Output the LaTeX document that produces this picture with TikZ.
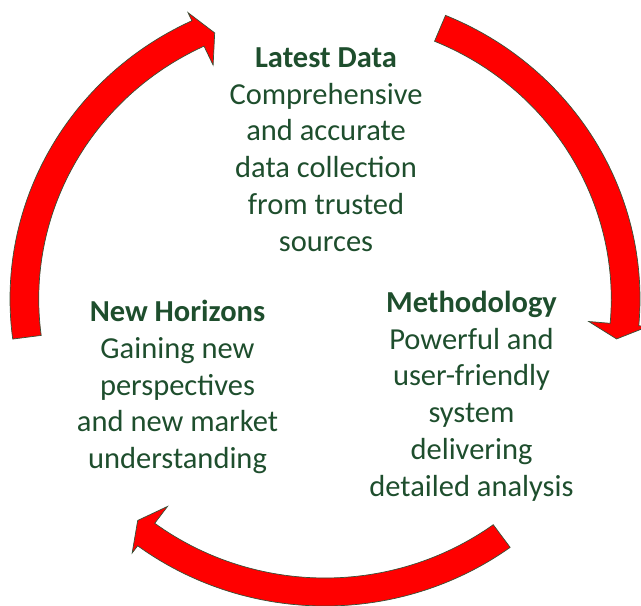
\documentclass[tikz,border=0pt]{standalone}
\usepackage{fontspec}
\setmainfont{Carlito}
\definecolor{txtgreen}{RGB}{30,78,45}
\definecolor{arrowred}{RGB}{255,0,0}
\definecolor{arrowedge}{RGB}{55,80,55}
\begin{document}
\begin{tikzpicture}[x=1pt,y=1pt,
  cyclearrow/.style={fill=arrowred,draw=arrowedge,line width=0.7pt,line join=miter},
  blocktext/.style={text=txtgreen,align=center,anchor=base,inner sep=0pt,
    font=\fontsize{30.5}{36.7}\selectfont}]
\useasboundingbox (0,0) rectangle (641,-606);
\clip (0,0) rectangle (641,-606);
\begin{scope}[shift={(325,-299)},x=1.026pt,y=1pt]
  \foreach \t in {67.5,187.5,306}{
    \pgfmathsetmacro{\b}{\t-72.5}
    \pgfmathsetmacro{\p}{\t-75.5}
    \path[cyclearrow] (\t:307) arc[start angle=\t,end angle=\b,radius=307]
      -- (\b:316) -- (\p:287) -- (\b:258) -- (\b:279)
      arc[start angle=\b,end angle=\t,radius=279] -- cycle;
  }
\end{scope}
% anchor = baseline of the last line of each block
\node[blocktext] (latest) at (326,-251) {\textbf{Latest Data}\\Comprehensive\\and accurate\\data collection\\from trusted\\sources};
\node[blocktext] (horizons) at (177.5,-468.5) {\textbf{New Horizons}\\Gaining new\\perspectives\\and new market\\understanding};
\node[blocktext] (method) at (471.5,-496) {\textbf{Methodology}\\Powerful and\\user-friendly\\system\\delivering\\detailed analysis};
\end{tikzpicture}
\end{document}
